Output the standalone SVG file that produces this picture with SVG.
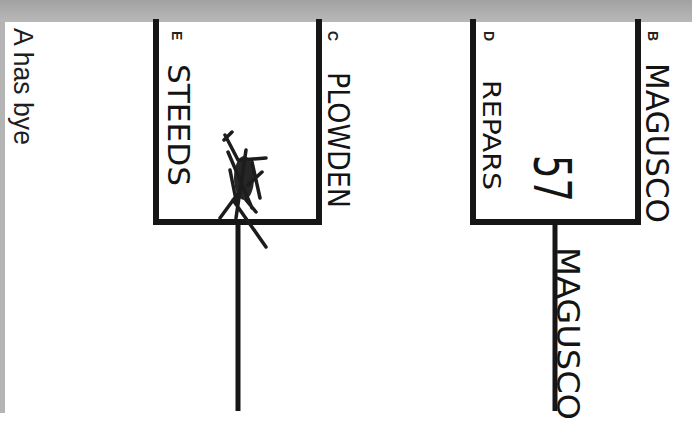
<svg xmlns="http://www.w3.org/2000/svg" width="692" height="428" viewBox="0 0 692 428">
<defs>
<style>
.line{stroke:#161616;stroke-width:6;fill:none;stroke-linecap:square}
.stem{stroke:#161616;stroke-width:5;fill:none}
.lbl{font-family:"Liberation Sans",Arial,sans-serif;font-size:14px;font-weight:bold;fill:#222}
.hand{font-family:"DejaVu Sans Condensed","DejaVu Sans",sans-serif;font-weight:normal;fill:#141414}
.scr{stroke:#1c1c1c;stroke-width:3.5;fill:none;stroke-linecap:round}
</style>
<linearGradient id="band" x1="0" y1="0" x2="0" y2="1">
<stop offset="0" stop-color="#a2a2a2"/>
<stop offset="1" stop-color="#b8b8b8"/>
</linearGradient>
</defs>
<rect x="0" y="0" width="692" height="428" fill="#ffffff"/>
<rect x="0" y="0" width="692" height="22" fill="url(#band)"/>
<rect x="0" y="22" width="5" height="391" fill="#b4b4b4"/>

<g id="bye">
<text transform="translate(14,28) rotate(90)" font-family="Liberation Sans, Arial, sans-serif" font-size="27" fill="#1e1e1e" textLength="117" lengthAdjust="spacingAndGlyphs">A has bye</text>
</g>

<g id="connectors">
<path class="line" d="M156,22 V222 H319 V22"/>
<path class="stem" d="M238,225 V411"/>
<path class="line" d="M473,22 V222 H638 V22"/>
<path class="stem" d="M555,225 V411"/>
</g>

<g id="E">
<text class="lbl" transform="translate(172,31) rotate(90)">E</text>
<text class="hand" transform="translate(168,64) rotate(90)" font-size="30" textLength="122" lengthAdjust="spacingAndGlyphs">STEEDS</text>
</g>
<g id="C">
<text class="lbl" transform="translate(328,31) rotate(90)">C</text>
<text class="hand" transform="translate(328,72) rotate(90)" font-size="30" textLength="136" lengthAdjust="spacingAndGlyphs">PLOWDEN</text>
</g>
<g id="D">
<text class="lbl" transform="translate(484,31) rotate(90)">D</text>
<text class="hand" transform="translate(483,80) rotate(90)" font-size="24" textLength="110" lengthAdjust="spacingAndGlyphs">REPARS</text>
</g>
<g id="B">
<text class="lbl" transform="translate(648,31) rotate(90)">B</text>
<text class="hand" transform="translate(646,63) rotate(90)" font-size="32" textLength="160" lengthAdjust="spacingAndGlyphs">MAGUSCO</text>
</g>
<g id="score">
<text class="hand" transform="translate(534,155) rotate(90)" font-size="52" textLength="47" lengthAdjust="spacingAndGlyphs">57</text>
</g>
<g id="winner">
<text class="hand" transform="translate(557,247) rotate(90)" font-size="32" textLength="173" lengthAdjust="spacingAndGlyphs">MAGUSCO</text>
</g>
<g id="scribble">
<ellipse cx="244" cy="178" rx="10" ry="22" fill="#262626"/>
<path class="scr" d="M225,135 L238,160 M224,140 L232,132 M228,152 L252,208 M233,200 L266,247 M240,160 L266,158 M248,185 L262,172 M220,218 L242,188 M236,218 L246,150 M252,162 L260,198 M230,170 L236,200 M246,200 L256,212"/>
</g>
</svg>
